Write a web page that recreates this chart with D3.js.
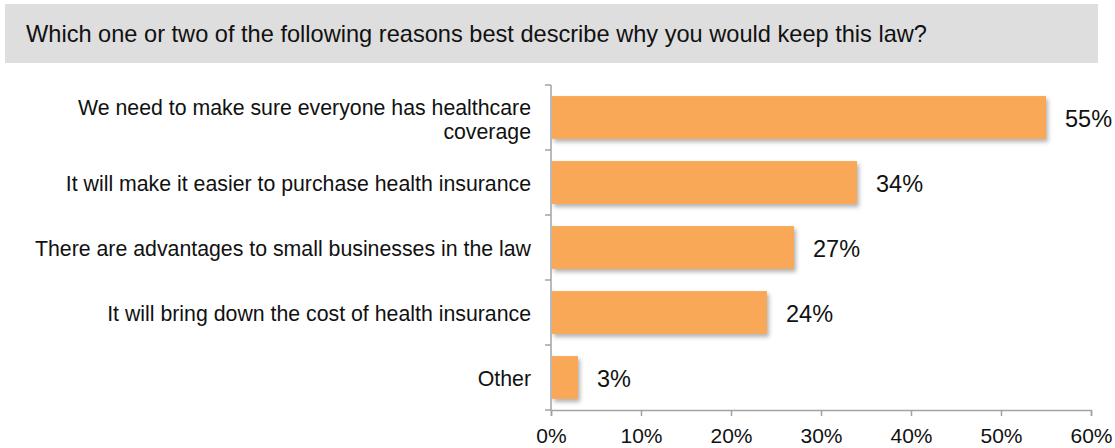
<!DOCTYPE html>
<html lang="en">
<head>
<meta charset="UTF-8">
<title>Keep this law</title>
<script src="https://cdn.jsdelivr.net/npm/d3@7"></script>
<style>
  body { margin: 0; background: #fff; }
  svg text { font-family: "Liberation Sans", Arial, sans-serif; fill: #111; }
</style>
</head>
<body>
<svg id="chart" width="1115" height="448"></svg>
<script>
// data
var question = "Which one or two of the following reasons best describe why you would keep this law?";
var categories = [
  ["We need to make sure everyone has healthcare", "coverage"],
  ["It will make it easier to purchase health insurance"],
  ["There are advantages to small businesses in the law"],
  ["It will bring down the cost of health insurance"],
  ["Other"]
];
var values = [55, 34, 27, 24, 3];
var xTicks = [0, 10, 20, 30, 40, 50, 60];

var svg = d3.select("#chart");

// drop shadow for the bars
var defs = svg.append("defs");
defs.append("filter")
  .attr("id", "shadow")
  .attr("x", "-10%").attr("y", "-20%")
  .attr("width", "130%").attr("height", "160%")
  .append("feDropShadow")
  .attr("dx", 2).attr("dy", 3)
  .attr("stdDeviation", 2)
  .attr("flood-color", "#000")
  .attr("flood-opacity", 0.3);

// title box
svg.append("rect")
  .attr("x", 5).attr("y", 4)
  .attr("width", 1093).attr("height", 59)
  .attr("fill", "#dedede");
svg.append("text")
  .attr("x", 26).attr("y", 42)
  .attr("font-size", 23.6)
  .text(question);

var x = d3.scaleLinear().domain([0, 60]).range([551, 1091]);
var idx = categories.map((d, i) => i);
var y = d3.scaleBand().domain(idx).range([85, 410])
  .paddingInner(0.34).paddingOuter(0.17);
var step = y.step();

// bars
svg.append("g")
  .selectAll("rect")
  .data(values)
  .enter()
  .append("rect")
  .attr("x", x(0) + 1)
  .attr("y", (d, i) => y(i))
  .attr("width", d => x(d) - x(0) - 1)
  .attr("height", y.bandwidth())
  .attr("fill", "#f9a858")
  .attr("filter", "url(#shadow)");

// value labels
svg.append("g")
  .selectAll("text")
  .data(values)
  .enter()
  .append("text")
  .attr("x", d => x(d) + 19)
  .attr("y", (d, i) => y(i) + y.bandwidth() / 2 + 1)
  .attr("dy", "0.36em")
  .attr("font-size", 23.5)
  .text(d => d + "%");

// category labels
var cat = svg.append("g")
  .selectAll("text")
  .data(categories)
  .enter()
  .append("text")
  .attr("text-anchor", "end")
  .attr("font-size", 21.3)
  .attr("y", (d, i) => y(i) + y.bandwidth() / 2 + 1);
cat.selectAll("tspan")
  .data(d => d.map((t, j) => ({t: t, n: d.length, j: j})))
  .enter()
  .append("tspan")
  .attr("x", 531)
  .attr("dy", d => d.j == 0 ? (0.36 - (d.n - 1) * 0.52) + "em" : "1.13em")
  .text(d => d.t);

// left axis: line plus ticks at band edges
var axisColor = "#a3a3a3";
var left = svg.append("g");
left.append("line")
  .attr("x1", x(0)).attr("x2", x(0))
  .attr("y1", 85).attr("y2", 410)
  .attr("stroke", axisColor).attr("stroke-width", 1.5);
left.selectAll("line.tick")
  .data(d3.range(categories.length + 1))
  .enter()
  .append("line")
  .attr("class", "tick")
  .attr("x1", x(0) - 6).attr("x2", x(0))
  .attr("y1", i => 85 + i * step).attr("y2", i => 85 + i * step)
  .attr("stroke", axisColor).attr("stroke-width", 1.5);

// bottom axis
var xAxis = d3.axisBottom(x)
  .tickValues(xTicks)
  .tickFormat(d => d + "%")
  .tickSize(6)
  .tickPadding(12);
var gx = svg.append("g")
  .attr("transform", "translate(0,410)")
  .call(xAxis);
gx.select(".domain").attr("stroke", axisColor).attr("stroke-width", 1.5);
gx.selectAll(".tick line").attr("stroke", axisColor).attr("stroke-width", 1.5);
gx.selectAll(".tick text")
  .attr("font-size", 21)
  .attr("font-family", "Liberation Sans, Arial, sans-serif")
  .attr("fill", "#111");
</script>
</body>
</html>
